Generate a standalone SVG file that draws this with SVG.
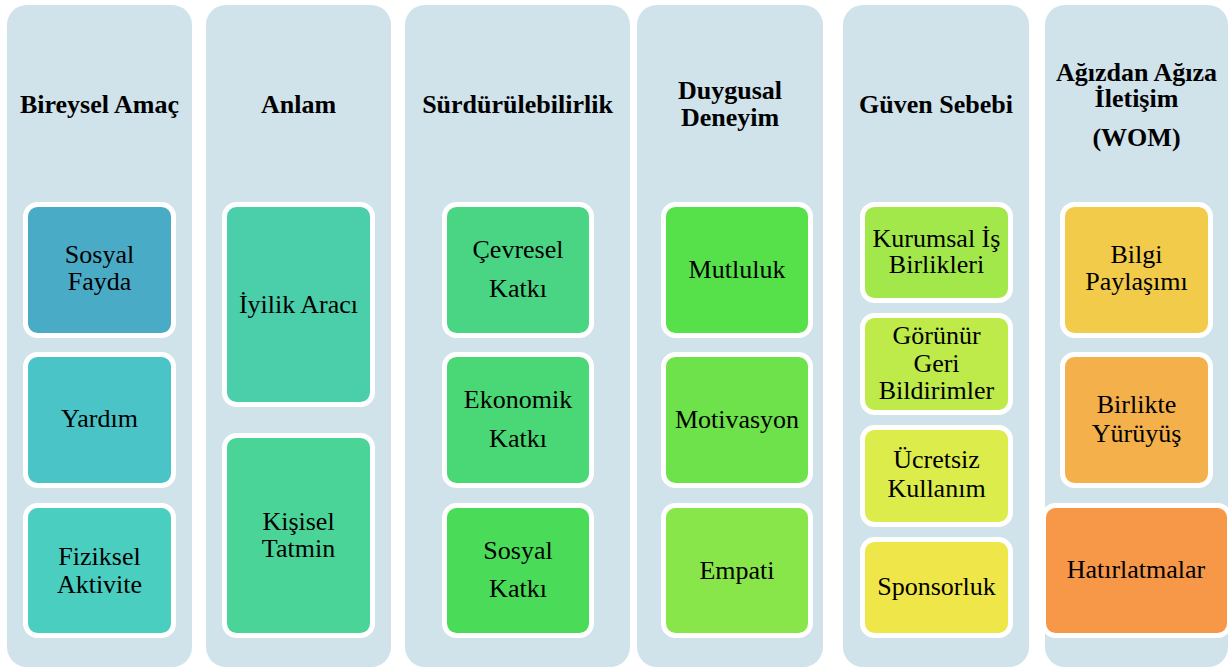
<svg xmlns="http://www.w3.org/2000/svg" width="1229" height="668" viewBox="0 0 1229 668">
<style>
.col{fill:#D0E2EA}
.box{stroke:#FFFFFF;stroke-width:5}
.h{font-weight:bold;font-size:26px;fill:#000;text-anchor:middle}
.t{font-size:26px;fill:#000;text-anchor:middle}
</style>
<rect width="1229" height="668" fill="#FFFFFF"/>
<g font-family="Liberation Serif, DejaVu Serif, serif">
<g id="col-bireysel-amac">
<rect class="col" x="7" y="5" width="185" height="662" rx="20"/>
<text class="h" x="99.5" y="113">Bireysel Amaç</text>
<g id="sosyal-fayda"><rect class="box" x="25.5" y="204.5" width="148" height="131" rx="12" fill="#4AABC6"/>
<text class="t" x="99.5" y="263">Sosyal</text><text class="t" x="99.5" y="290">Fayda</text></g>
<g id="yardim"><rect class="box" x="25.5" y="354.5" width="148" height="131" rx="12" fill="#4AC4C7"/>
<text class="t" x="99.5" y="427">Yardım</text></g>
<g id="fiziksel-aktivite"><rect class="box" x="25.5" y="505.5" width="148" height="130" rx="12" fill="#4ACEBF"/>
<text class="t" x="99.5" y="565">Fiziksel</text><text class="t" x="99.5" y="592.5">Aktivite</text></g>
</g>

<g id="col-anlam">
<rect class="col" x="206" y="5" width="185" height="662" rx="20"/>
<text class="h" x="298.5" y="113">Anlam</text>
<g id="iyilik-araci"><rect class="box" x="224.5" y="204.5" width="148" height="200" rx="12" fill="#4BCFAB"/>
<text class="t" x="298.5" y="313">İyilik Aracı</text></g>
<g id="kisisel-tatmin"><rect class="box" x="224.5" y="435.5" width="148" height="200" rx="12" fill="#4AD497"/>
<text class="t" x="298.5" y="530">Kişisel</text><text class="t" x="298.5" y="556.5">Tatmin</text></g>
</g>

<g id="col-surdurulebilirlik">
<rect class="col" x="405" y="5" width="225" height="662" rx="20"/>
<text class="h" x="517.5" y="113">Sürdürülebilirlik</text>
<g id="cevresel-katki"><rect class="box" x="444.5" y="204.5" width="147" height="131" rx="12" fill="#4AD584"/>
<text class="t" x="518" y="257.5">Çevresel</text><text class="t" x="518" y="296.5">Katkı</text></g>
<g id="ekonomik-katki"><rect class="box" x="444.5" y="354.5" width="147" height="131" rx="12" fill="#4AD775"/>
<text class="t" x="518" y="408">Ekonomik</text><text class="t" x="518" y="446.5">Katkı</text></g>
<g id="sosyal-katki"><rect class="box" x="444.5" y="505.5" width="147" height="130" rx="12" fill="#4ADC58"/>
<text class="t" x="518" y="559">Sosyal</text><text class="t" x="518" y="597">Katkı</text></g>
</g>

<g id="col-duygusal-deneyim">
<rect class="col" x="637" y="5" width="186" height="662" rx="20"/>
<text class="h" x="730" y="99">Duygusal</text><text class="h" x="730" y="126">Deneyim</text>
<g id="mutluluk"><rect class="box" x="663.5" y="204.5" width="147" height="131" rx="12" fill="#56E04A"/>
<text class="t" x="737" y="278">Mutluluk</text></g>
<g id="motivasyon"><rect class="box" x="663.5" y="354.5" width="147" height="131" rx="12" fill="#6DE24A"/>
<text class="t" x="737" y="428">Motivasyon</text></g>
<g id="empati"><rect class="box" x="663.5" y="505.5" width="147" height="130" rx="12" fill="#88E64A"/>
<text class="t" x="737" y="579">Empati</text></g>
</g>

<g id="col-guven-sebebi">
<rect class="col" x="843" y="5" width="186" height="662" rx="20"/>
<text class="h" x="936" y="113">Güven Sebebi</text>
<g id="kurumsal-is-birlikleri"><rect class="box" x="862.5" y="204.5" width="148" height="96" rx="12" fill="#A3E84A"/>
<text class="t" x="936.5" y="246.5">Kurumsal İş</text><text class="t" x="936.5" y="273">Birlikleri</text></g>
<g id="gorunur-geri-bildirimler"><rect class="box" x="862.5" y="315.5" width="148" height="97" rx="12" fill="#BEEA4A"/>
<text class="t" x="936.5" y="344">Görünür</text><text class="t" x="936.5" y="371.5">Geri</text><text class="t" x="936.5" y="399">Bildirimler</text></g>
<g id="ucretsiz-kullanim"><rect class="box" x="862.5" y="427.5" width="148" height="97" rx="12" fill="#DCEC4A"/>
<text class="t" x="936.5" y="468">Ücretsiz</text><text class="t" x="936.5" y="497">Kullanım</text></g>
<g id="sponsorluk"><rect class="box" x="862.5" y="539.5" width="148" height="96" rx="12" fill="#EFE64A"/>
<text class="t" x="936.5" y="595">Sponsorluk</text></g>
</g>

<g id="col-agizdan-agiza">
<rect class="col" x="1045" y="5" width="183" height="662" rx="20"/>
<text class="h" x="1136.5" y="80.5">Ağızdan Ağıza</text><text class="h" x="1136.5" y="107">İletişim</text><text class="h" x="1136.5" y="145.5">(WOM)</text>
<g id="bilgi-paylasimi"><rect class="box" x="1062.5" y="204.5" width="148" height="131" rx="12" fill="#F2CB4A"/>
<text class="t" x="1136.5" y="263">Bilgi</text><text class="t" x="1136.5" y="290">Paylaşımı</text></g>
<g id="birlikte-yuruyus"><rect class="box" x="1062.5" y="354.5" width="148" height="131" rx="12" fill="#F4B04A"/>
<text class="t" x="1136.5" y="413">Birlikte</text><text class="t" x="1136.5" y="441.5">Yürüyüş</text></g>
<g id="hatirlatmalar"><rect class="box" x="1043.5" y="505.5" width="186" height="130" rx="12" fill="#F79748"/>
<text class="t" x="1136" y="578">Hatırlatmalar</text></g>
</g>
</g>
</svg>
